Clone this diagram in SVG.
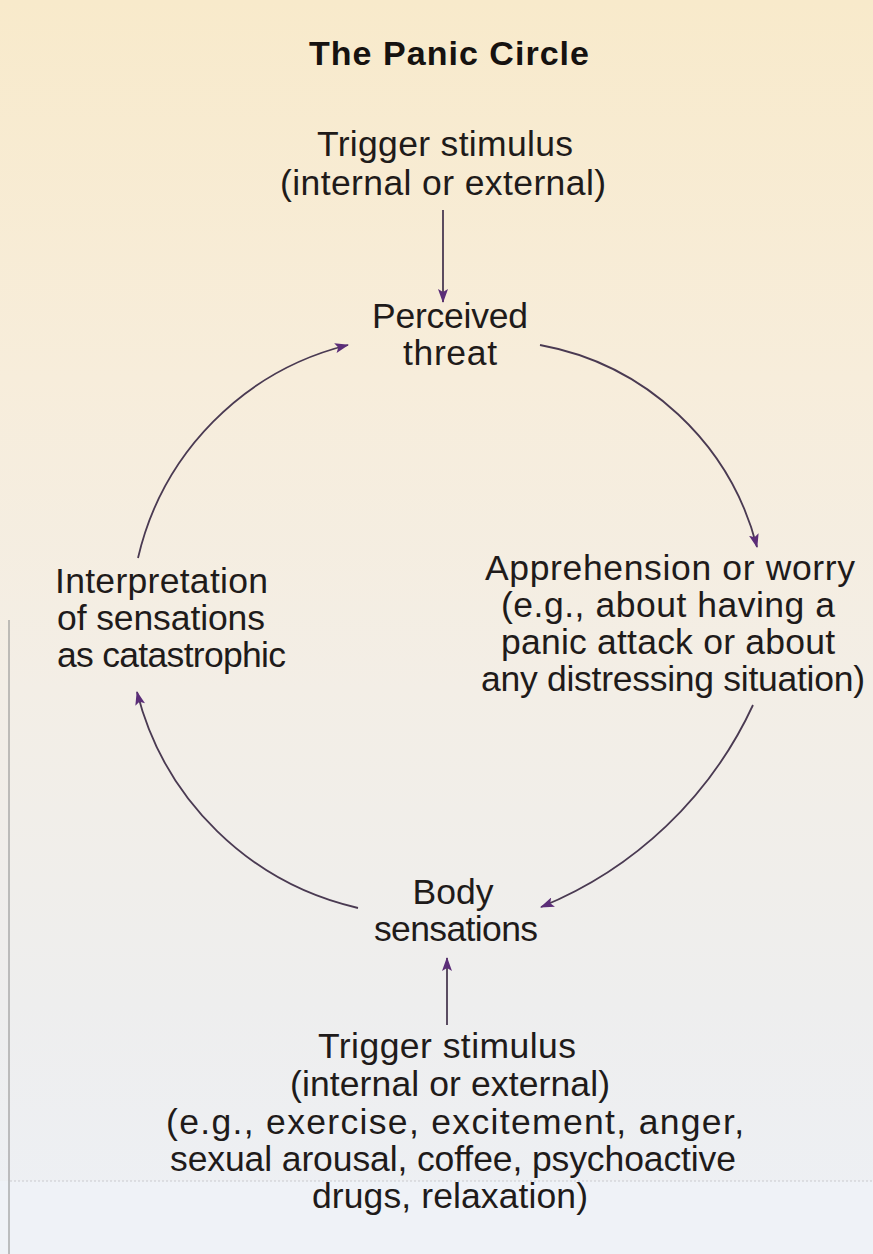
<svg xmlns="http://www.w3.org/2000/svg" width="873" height="1254" viewBox="0 0 873 1254">
<style>
.t{font-family:"Liberation Sans",Arial,Helvetica,sans-serif;font-size:35.5px;fill:#1f1b1a;text-anchor:middle}
.ts{font-family:"Liberation Sans",Arial,Helvetica,sans-serif;font-size:35.5px;fill:#1f1b1a;text-anchor:start}
.title{font-family:"Liberation Sans",Arial,Helvetica,sans-serif;font-size:34px;font-weight:bold;fill:#161210;text-anchor:middle}
.c{fill:none;stroke:#4a3a52;stroke-width:1.8}
</style>
<defs>
<linearGradient id="bg" x1="0" y1="0" x2="0" y2="1">
<stop offset="0" stop-color="#f8eacb"/>
<stop offset="0.3" stop-color="#f7eddb"/>
<stop offset="0.55" stop-color="#f3eee6"/>
<stop offset="0.8" stop-color="#eeeeee"/>
<stop offset="1" stop-color="#edf0f5"/>
</linearGradient>
<marker id="ah" viewBox="0 0 14 10" refX="13" refY="5" markerWidth="14" markerHeight="10" markerUnits="userSpaceOnUse" orient="auto">
<path d="M0,0 L14,5 L0,10 L3,5 Z" fill="#5b2d78"/>
</marker>
</defs>
<rect x="0" y="0" width="873" height="1254" fill="url(#bg)"/>
<rect x="0" y="1181" width="873" height="73" fill="#eff2f7"/>
<line x1="10" y1="1181" x2="873" y2="1181" stroke="#c9c9ce" stroke-width="1" stroke-dasharray="2,2"/>
<line x1="9" y1="620" x2="9" y2="1254" stroke="#8e8e8e" stroke-width="1.5" opacity="0.7"/>

<g id="title"><text class="title" x="449" y="65" textLength="280">The Panic Circle</text></g>

<g id="trigger-top">
<text class="t" x="445" y="156" textLength="256">Trigger stimulus</text>
<text class="t" x="443" y="195" textLength="326">(internal or external)</text>
</g>

<g id="perceived-threat">
<text class="t" x="450" y="328" textLength="156">Perceived</text>
<text class="t" x="450" y="365" textLength="94">threat</text>
</g>

<g id="apprehension">
<text class="t" x="670" y="580" textLength="370">Apprehension or worry</text>
<text class="t" x="668" y="617" textLength="334">(e.g., about having a</text>
<text class="t" x="668" y="654" textLength="334">panic attack or about</text>
<text class="t" x="673" y="691" textLength="384">any distressing situation)</text>
</g>

<g id="interpretation">
<text class="ts" x="55" y="593" textLength="213">Interpretation</text>
<text class="ts" x="57" y="630" textLength="208">of sensations</text>
<text class="ts" x="57" y="667" textLength="229">as catastrophic</text>
</g>

<g id="body-sensations">
<text class="t" x="453" y="904" textLength="81">Body</text>
<text class="t" x="456" y="941" textLength="164">sensations</text>
</g>

<g id="trigger-bottom">
<text class="t" x="447" y="1058" textLength="258">Trigger stimulus</text>
<text class="t" x="450" y="1096" textLength="320">(internal or external)</text>
<text class="t" x="455" y="1134" textLength="578">(e.g., exercise, excitement, anger,</text>
<text class="t" x="453" y="1171" textLength="566">sexual arousal, coffee, psychoactive</text>
<text class="t" x="450" y="1208" textLength="276">drugs, relaxation)</text>
</g>

<g id="connectors">
<path class="c" d="M443,210 L443,302" marker-end="url(#ah)"/>
<path class="c" d="M540,345 A275,275 0 0 1 757,547" marker-end="url(#ah)"/>
<path class="c" d="M753,705 A399,399 0 0 1 541,907" marker-end="url(#ah)"/>
<path class="c" d="M358,908 A296,296 0 0 1 137,692" marker-end="url(#ah)"/>
<path class="c" d="M138,558 A286,286 0 0 1 348,345" marker-end="url(#ah)"/>
<path class="c" d="M447,1025 L447,958" marker-end="url(#ah)"/>
</g>
</svg>
